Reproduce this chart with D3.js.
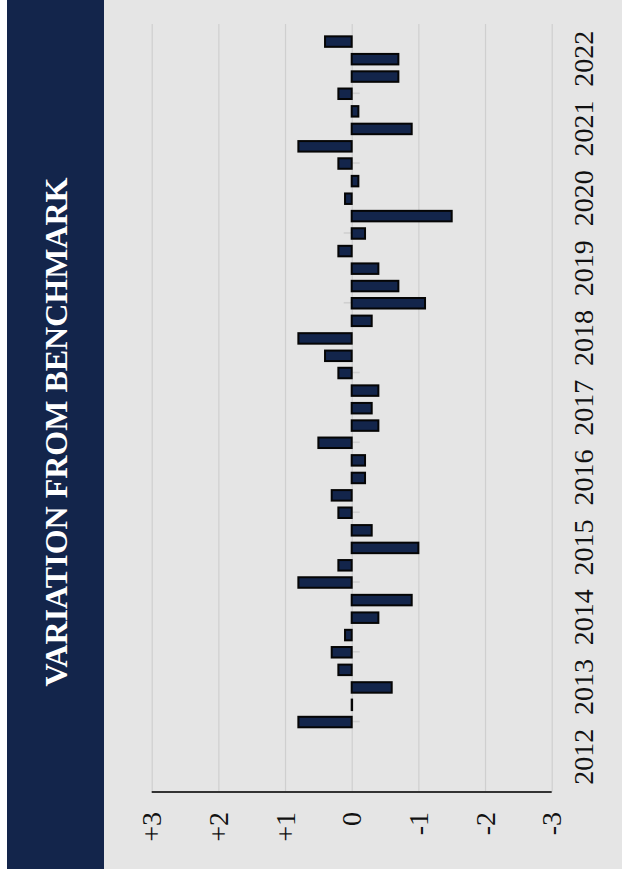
<!DOCTYPE html>
<html>
<head>
<meta charset="utf-8">
<script src="https://cdn.jsdelivr.net/npm/d3@7"></script>
<style>
body { margin: 0; background: #fff; }
</style>
</head>
<body>
<div id="chart"></div>
<script>
// Data
var years = ["2012", "2013", "2014", "2015", "2016", "2017", "2018", "2019", "2020", "2021", "2022"];
var periods = [
	"2013-01-01", "2013-04-01", "2013-07-01", "2013-10-01",
	"2014-01-01", "2014-04-01", "2014-07-01", "2014-10-01",
	"2015-01-01", "2015-04-01", "2015-07-01", "2015-10-01",
	"2016-01-01", "2016-04-01", "2016-07-01", "2016-10-01",
	"2017-01-01", "2017-04-01", "2017-07-01", "2017-10-01",
	"2018-01-01", "2018-04-01", "2018-07-01", "2018-10-01",
	"2019-01-01", "2019-04-01", "2019-07-01", "2019-10-01",
	"2020-01-01", "2020-04-01", "2020-07-01", "2020-10-01",
	"2021-01-01", "2021-04-01", "2021-07-01", "2021-10-01",
	"2022-01-01", "2022-04-01", "2022-07-01", "2022-10-01"];
var variation = [
	0.8, 0.0, -0.6, 0.2,
	0.3, 0.1, -0.4, -0.9,
	0.8, 0.2, -1.0, -0.3,
	0.2, 0.3, -0.2, -0.2,
	0.5, -0.4, -0.3, -0.4,
	0.2, 0.4, 0.8, -0.3,
	-1.1, -0.7, -0.4, 0.2,
	-0.2, -1.5, 0.1, -0.1,
	0.2, 0.8, -0.9, -0.1,
	0.2, -0.7, -0.7, 0.4];
var valueTicks = [3, 2, 1, 0, -1, -2, -3];
var valueLabels = ["+3", "+2", "+1", "0", "-1", "-2", "-3"];

// Page is drawn landscape, then turned a quarter
var page = {width: 869, height: 622};
var plot = {left: 77, right: 845, top: 151.7, bottom: 551.7};
var navy = "#13254b";
var serif = "'Liberation Serif', 'Times New Roman', serif";

var parse = d3.utcParse("%Y-%m-%d");

var x = d3.scaleUtc()
	.domain([parse("2012-01-01"), parse("2023-01-01")])
	.range([plot.left, plot.right]);

var y = d3.scaleLinear()
	.domain([-3, 3])
	.range([plot.bottom, plot.top]);

var svg = d3.select("#chart")
	.append("svg")
		.attr("width", page.height)
		.attr("height", page.width);

var g = svg.append("g")
	.attr("transform", "translate(0," + page.width + ") rotate(-90)");

// backgrounds
g.append("rect")
	.attr("x", 0).attr("y", 104)
	.attr("width", page.width).attr("height", page.height - 104)
	.attr("fill", "#e5e5e5");

g.append("rect")
	.attr("x", 0).attr("y", 7)
	.attr("width", page.width).attr("height", 97)
	.attr("fill", navy);

g.append("text")
	.attr("x", 437)
	.attr("y", 67)
	.attr("text-anchor", "middle")
	.attr("fill", "#fff")
	.attr("font-family", serif)
	.attr("font-weight", "bold")
	.attr("font-size", 32)
	.text("VARIATION FROM BENCHMARK");

// value axis with grid
var yAxis = g.append("g")
	.attr("transform", "translate(" + plot.left + ",0)")
	.call(d3.axisLeft(y)
		.tickValues(valueTicks)
		.tickSize(-(plot.right - plot.left))
		.tickPadding(20)
		.tickFormat(function(d, i) { return valueLabels[i]; }))
	.attr("font-family", serif)
	.attr("font-size", 28);

yAxis.select(".domain").remove();
yAxis.selectAll(".tick line")
	.attr("stroke", "#cfcfcf")
	.attr("stroke-width", 1.2);
yAxis.selectAll(".tick text")
	.style("font-family", serif)
	.attr("fill", "#111");

g.append("line")
	.attr("x1", plot.left).attr("x2", plot.left)
	.attr("y1", plot.top).attr("y2", plot.bottom)
	.attr("stroke", "#333")
	.attr("stroke-width", 2);

// year ticks across the zero line
var zeroTicks = g.append("g")
	.attr("transform", "translate(0," + (y(0) - 8) + ")")
	.call(d3.axisBottom(x)
		.tickValues(years.slice(1).map(function(d) { return parse(d + "-01-01"); }))
		.tickSize(16)
		.tickFormat(""));
zeroTicks.select(".domain").remove();
zeroTicks.selectAll(".tick line")
	.attr("stroke", "#d0d0d0")
	.attr("stroke-width", 1.6);

// year labels
var xAxis = g.append("g")
	.attr("transform", "translate(0," + plot.bottom + ")")
	.call(d3.axisBottom(x)
		.tickValues(years.map(function(d) { return parse(d + "-07-01"); }))
		.tickSize(0)
		.tickPadding(21)
		.tickFormat(d3.utcFormat("%Y")))
	.attr("font-family", serif)
	.attr("font-size", 28);
xAxis.select(".domain").remove();
xAxis.selectAll(".tick text")
	.style("font-family", serif)
	.attr("fill", "#111");

// bars
var barWidth = 10.5;
g.append("g")
	.selectAll("rect")
	.data(periods.map(function(d, i) { return {date: parse(d), value: variation[i]}; }))
	.enter().append("rect")
		.attr("x", function(d) { return x(d.date) - barWidth / 2; })
		.attr("width", barWidth)
		.attr("y", function(d) { return y(Math.max(0, d.value)); })
		.attr("height", function(d) { return Math.max(0.4, Math.abs(y(d.value) - y(0))); })
		.attr("fill", navy)
		.attr("stroke", "#050505")
		.attr("stroke-width", 2);
</script>
</body>
</html>
